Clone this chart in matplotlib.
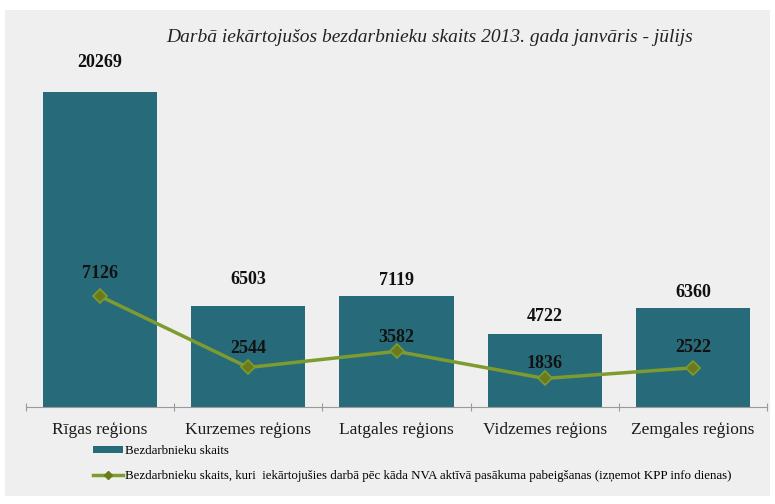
import matplotlib
matplotlib.use("Agg")
import matplotlib.pyplot as plt
from matplotlib.lines import Line2D
from matplotlib.patches import Patch

regions = ["Rīgas reģions", "Kurzemes reģions", "Latgales reģions",
           "Vidzemes reģions", "Zemgales reģions"]
unemployed = [20269, 6503, 7119, 4722, 6360]
employed_after_nva = [7126, 2544, 3582, 1836, 2522]

title = "Darbā iekārtojušos bezdarbnieku skaits 2013. gada janvāris - jūlijs"
bar_label = "Bezdarbnieku skaits"
line_label = ("Bezdarbnieku skaits, kuri  iekārtojušies darbā pēc kāda NVA aktīvā "
              "pasākuma pabeigšanas (izņemot KPP info dienas)")

# vertical pixel gaps between each mark and its value label
bar_label_gap = [30, 26, 16, 17, 16]
line_label_gap = [23, 19, 14, 15, 20]

BG = "#efefef"
BAR = "#276b7b"
LINE = "#7d9b2f"
MARK = "#6b7a1a"
SERIF = ["Liberation Serif", "DejaVu Serif"]

fig = plt.figure(figsize=(7.75, 5.04), dpi=100)
fig.patch.set_facecolor("white")
# grey chart panel
fig.patches.append(plt.Rectangle((5 / 775, 1 - 496 / 504), 765 / 775, 486 / 504,
                                 transform=fig.transFigure, facecolor=BG,
                                 edgecolor="none", zorder=-5))

ax = fig.add_axes([26 / 775, 1 - 407 / 504, 741 / 775, 377 / 504])
ax.set_zorder(2)
ax.set_facecolor("none")
x = list(range(len(regions)))
ax.bar(x, unemployed, width=0.77, color=BAR, zorder=2)
ax.plot(x, employed_after_nva, color=LINE, lw=2.5, marker="D", ms=7,
        markerfacecolor=MARK, markeredgecolor=LINE, markeredgewidth=1.2, zorder=3)

ax.set_xlim(-0.5, len(regions) - 0.5)
ax.set_ylim(0, 24260)
ax.set_yticks([])
for s in ["top", "right", "left"]:
    ax.spines[s].set_visible(False)
ax.spines["bottom"].set_color("#9a9a9a")
ax.set_xticks([i - 0.5 for i in range(len(regions) + 1)])
ax.set_xticklabels([])
ax.tick_params(axis="x", length=6, direction="inout", color="#9a9a9a")
for i, r in enumerate(regions):
    ax.annotate(r, (i, 0), xytext=(0, -23), textcoords="offset pixels",
                ha="center", va="center", fontsize=12.5,
                family=SERIF, color="#1a1a1a")

for i, v in enumerate(unemployed):
    ax.annotate(str(v), (i, v), xytext=(0, bar_label_gap[i]),
                textcoords="offset pixels", ha="center", va="center",
                fontsize=13, fontweight="bold", family=SERIF, color="#111111")
for i, v in enumerate(employed_after_nva):
    ax.annotate(str(v), (i, v), xytext=(0, line_label_gap[i]),
                textcoords="offset pixels", ha="center", va="center",
                fontsize=13, fontweight="bold", family=SERIF, color="#111111",
                zorder=4)

fig.text(430 / 775, 1 - 38 / 504, title, ha="center", va="center",
         fontsize=14, style="italic", family=SERIF, color="#222222")

handles = [Patch(facecolor=BAR, edgecolor="none"),
           Line2D([0], [0], color=LINE, lw=2.5, marker="D", ms=4,
                  markerfacecolor=MARK, markeredgecolor=MARK)]
fig.legend(handles, [bar_label, line_label], loc="upper left",
           bbox_to_anchor=(93 / 775, 1 - 445 / 504), frameon=False,
           prop={"family": SERIF, "size": 9.25}, handlelength=2.3,
           handleheight=0.5, handletextpad=0.2, labelspacing=1.0,
           borderaxespad=0, borderpad=0)

fig.savefig("out.png", dpi=100, facecolor="white")
